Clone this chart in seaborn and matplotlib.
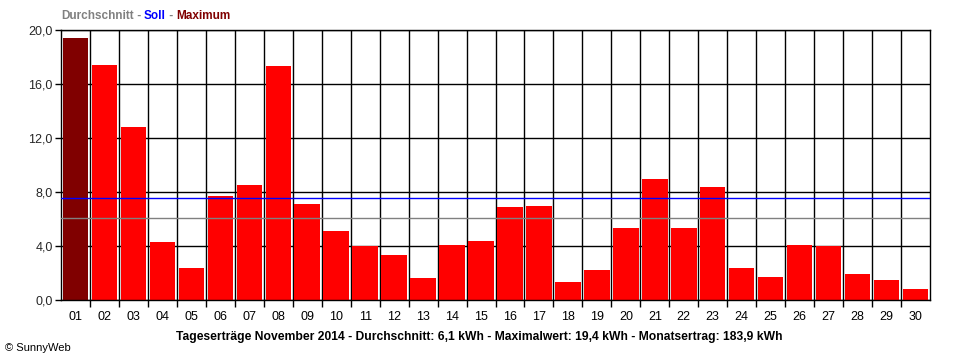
import matplotlib
matplotlib.use("Agg")
import matplotlib.pyplot as plt
import seaborn as sns
import numpy as np
import pandas as pd
from matplotlib.ticker import FixedLocator, FuncFormatter

days = [f"{d:02d}" for d in range(1, 31)]
values = [19.4, 17.4, 12.8, 4.3, 2.4, 7.7, 8.5, 17.3, 7.1, 5.1,
          4.0, 3.3, 1.6, 4.1, 4.4, 6.9, 7.0, 1.3, 2.2, 5.3,
          9.0, 5.3, 8.4, 2.4, 1.7, 4.1, 4.0, 1.9, 1.5, 0.8]
average = 6.1
target = 7.55
y_ticks = [0, 4, 8, 12, 16, 20]
title_parts = [("Durchschnitt", "#808080"), (" - ", "#808080"), ("Soll", "#0000FF"),
               (" - ", "#808080"), ("Maximum", "#800000")]
xlabel = "Tageserträge November 2014 - Durchschnitt: 6,1 kWh - Maximalwert: 19,4 kWh - Monatsertrag: 183,9 kWh"

sns.set_theme(style="white")
plt.rcParams['font.family'] = ['Liberation Sans', 'DejaVu Sans']

df = pd.DataFrame({"day": days, "value": values})
maxval = max(values)
palette = {d: ("#800000" if v == maxval else "#FF0000") for d, v in zip(days, values)}

fig = plt.figure(figsize=(9.6, 3.6), dpi=100)
ax = fig.add_axes([61/960, 60/360, (930-61)/960, 270/360])

sns.barplot(data=df, x="day", y="value", hue="day", palette=palette, legend=False,
            width=0.88, linewidth=0, saturation=1, ax=ax, zorder=2)

ax.set_xlim(-0.5, len(days) - 0.5)
ax.set_ylim(0, 20)
ax.yaxis.set_major_locator(FixedLocator(y_ticks))
ax.yaxis.set_major_formatter(FuncFormatter(lambda v, p: f"{v:.1f}".replace(".", ",")))
ax.xaxis.set_minor_locator(FixedLocator(np.arange(0.5, len(days) - 0.5, 1)))

ax.set_axisbelow(True)
ax.grid(axis="y", which="major", color="black", linewidth=1)
ax.grid(axis="x", which="minor", color="black", linewidth=1)
ax.grid(axis="x", which="major", visible=False)

ax.axhline(target, color="#0000FF", linewidth=1, zorder=3)
ax.axhline(average, color="#808080", linewidth=1, zorder=3)

for s in ax.spines.values():
    s.set_color("black")
    s.set_linewidth(1)

ax.tick_params(axis="x", which="major", length=0, pad=8, labelsize=9, colors="black")
ax.tick_params(axis="x", which="minor", length=5, width=1, direction="out", color="black", bottom=True)
ax.tick_params(axis="y", which="major", length=4, width=1, direction="out", color="black",
               labelsize=9, pad=2, left=True)
ax.set_xlabel("")
ax.set_ylabel("")

fig.text(479/960, 1 - 337/360, xlabel, ha="center", va="center", fontsize=8.7,
         fontweight="bold", color="black")
fig.text(5/960, 1 - 348/360, "© SunnyWeb", ha="left", va="center", fontsize=8, color="black")

fig.canvas.draw()
renderer = fig.canvas.get_renderer()
x = 61
for txt, col in title_parts:
    t = fig.text(x/960, 1 - 16/360, txt, ha="left", va="center", fontsize=8.5,
                 fontweight="bold", color=col)
    bb = t.get_window_extent(renderer=renderer)
    x += bb.width

fig.savefig("out.png", dpi=100)
